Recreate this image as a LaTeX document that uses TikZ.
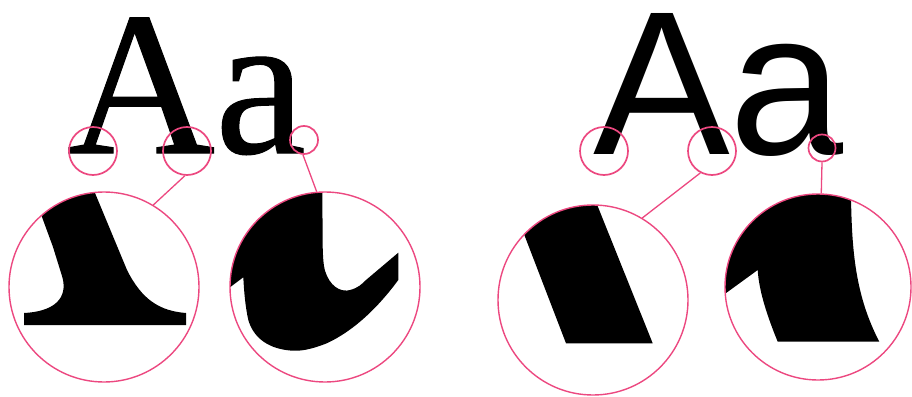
\documentclass[tikz,border=0pt]{standalone}
\usepackage{fontspec}
\newfontfamily\serifA[FakeBold=0.5]{Liberation Serif}
\newfontfamily\sansA{Liberation Sans}
\definecolor{lens}{RGB}{236,72,128}
\begin{document}
\begin{tikzpicture}[x=1pt,y=-1pt,
  lensS/.style={circle,draw=lens,line width=1.7pt,inner sep=0pt,minimum size=#1},
  lensB/.style={circle,draw=lens,line width=1.4pt,inner sep=0pt,minimum size=#1},
  link/.style={draw=lens,line width=1.3pt},
  glyph/.style={inner sep=0pt,outer sep=0pt,anchor=base west}]
\useasboundingbox (0,0) rectangle (912,396);

% main letters
\node[glyph] (serifAa) at (67,153) {\serifA\fontsize{205}{205}\selectfont Aa};
\node[glyph] (sansAa) at (593,154) {\sansA\fontsize{205}{205}\selectfont Aa};

% magnified contents
\begin{scope}
  \clip (104,287) circle (95);
  \fill (42,217) -- (53,247) -- (62,276)
     .. controls (67,292) and (62,311) .. (24,313)
     -- (24,325) -- (186,325) -- (186,313)
     .. controls (160,311) and (142,300) .. (127,270)
     -- (95,193) -- (80,150) -- (20,150) -- cycle;
\end{scope}
\begin{scope}
  \clip (325,287) circle (95);
  \fill (322,150) -- (322.7,246.7)
     .. controls (323,262) and (324,270) .. (327,276)
     .. controls (333,289) and (343,292) .. (350,290)
     .. controls (358,288) and (362,284) .. (366,280)
     -- (398.3,252.7) -- (398.3,280)
     .. controls (385,298) and (360,328) .. (326.7,343.3)
     .. controls (310,350) and (300,351) .. (293.3,350.7)
     .. controls (276,350) and (255,343) .. (248.3,320)
     .. controls (245,305) and (244,290) .. (243.3,277.3)
     -- (230,287.3) -- (200,287) -- (200,150) -- cycle;
\end{scope}
\begin{scope}
  \clip (593,300) circle (95);
  \fill (507.7,191.7) -- (566,343.3) -- (652.7,343.3) -- (589.3,185.3) -- cycle;
\end{scope}
\begin{scope}
  \clip (818,287) circle (93);
  \fill (851,150) -- (851,198.3)
     .. controls (852,250) and (855,295) .. (879.3,341.7)
     -- (777.7,341.7)
     .. controls (768,318) and (759,292) .. (757.7,270)
     -- (700,312) -- (700,150) -- cycle;
\end{scope}

% small lenses
\node[lensS=48] (sl1) at (93,151) {};
\node[lensS=48] (sl2) at (187,151) {};
\node[lensS=28] (sl3) at (304,140) {};
\node[lensS=48] (sr1) at (604,151) {};
\node[lensS=48] (sr2) at (712,151) {};
\node[lensS=27] (sr3) at (822,148) {};

% big lenses
\node[lensB=190] (bl1) at (104,287) {};
\node[lensB=190] (bl2) at (325,287) {};
\node[lensB=190] (br1) at (593,300) {};
\node[lensB=186] (br2) at (818,287) {};

% connectors
\draw[link] (sl2.265) -- (bl1.59);
\draw[link] (sl3.266) -- (bl2.95);
\draw[link] (sr2.242) -- (br1.59);
\draw[link] (sr3.270) -- (br2.88);
\end{tikzpicture}
\end{document}
